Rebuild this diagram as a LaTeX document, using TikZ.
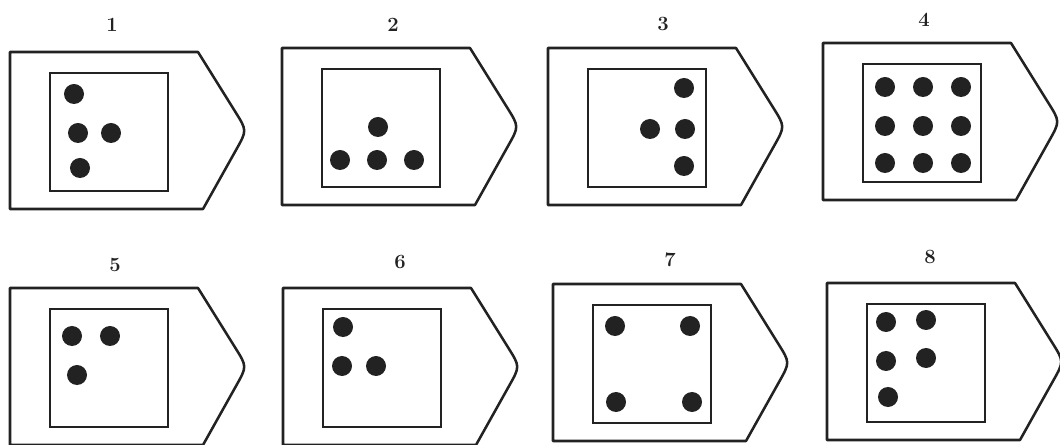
\documentclass[tikz,border=0pt]{standalone}
\usepackage{xcolor}
\usetikzlibrary{positioning}
\definecolor{ink}{HTML}{222222}

\begin{document}
\begin{tikzpicture}[
  x=0.025cm, y=-0.025cm,
  tag/.style={draw=ink, line width=1.8pt, line join=round},
  card/.style={draw=ink, line width=1.6pt},
  dot/.style={fill=ink},
  num/.style={text=ink, font=\bfseries\Large}
]
\useasboundingbox (0,0) rectangle (1060,445);

% tags: number / left / top / label x / label y
\foreach \n/\x/\y/\lx/\ly in {1/10/52/112/25, 2/282/48/393/25, 3/548/48/663/24,
    4/823/43/924/20, 5/10/288/115/265, 6/283/288/400/262, 7/553/284/670/260,
    8/827/283/930/257} {
  \begin{scope}[shift={(\x,\y)}]
    \draw[tag] (0,0) -- (188,0) -- (225.3,59.8) .. controls (237,78.5) .. (226.2,97.7)
      -- (193,157) -- (0,157) -- cycle;
    \draw[card] (40,21) rectangle (158,139);
  \end{scope}
  \node[num] (lab\n) at (\lx,\ly) {\n};
}

% dots
\foreach \p in {(74,94), (78,133), (111,133), (80,168)}
  \fill[dot] \p circle[radius=0.25cm];
\foreach \p in {(378,127), (340,160), (377,160), (414,160)}
  \fill[dot] \p circle[radius=0.25cm];
\foreach \p in {(684,88), (650,129), (685,129), (684,166)}
  \fill[dot] \p circle[radius=0.25cm];
\foreach \cx in {885,923,961}
  \foreach \cy in {87,126,163}
    \fill[dot] (\cx,\cy) circle[radius=0.25cm];
\foreach \p in {(72,336), (110,336), (77,375)}
  \fill[dot] \p circle[radius=0.25cm];
\foreach \p in {(343,327), (342,366), (376,366)}
  \fill[dot] \p circle[radius=0.25cm];
\foreach \p in {(615,326), (690,326), (616,402), (692,402)}
  \fill[dot] \p circle[radius=0.25cm];
\foreach \p in {(886,322), (926,320), (886,361), (926,358), (888,397)}
  \fill[dot] \p circle[radius=0.25cm];
\end{tikzpicture}
\end{document}
